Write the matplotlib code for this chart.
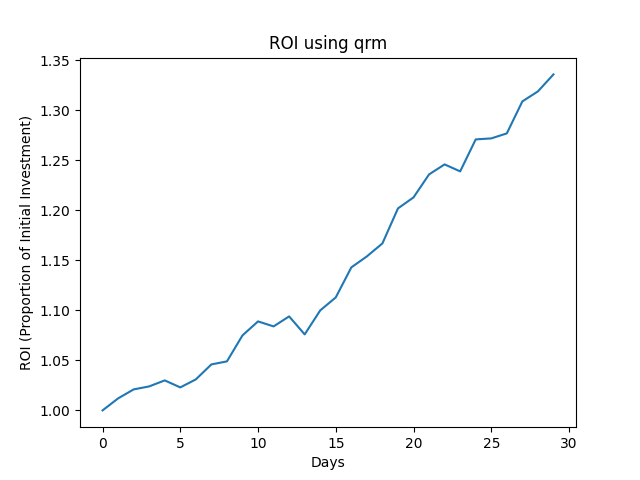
import matplotlib
matplotlib.use("Agg")
import matplotlib.pyplot as plt

days = list(range(30))
roi = [1.000, 1.012, 1.021, 1.024, 1.030, 1.023, 1.031, 1.046, 1.049, 1.075,
       1.089, 1.084, 1.094, 1.076, 1.100, 1.113, 1.143, 1.154, 1.167, 1.202,
       1.213, 1.236, 1.246, 1.239, 1.271, 1.272, 1.277, 1.309, 1.319, 1.336]

fig, ax = plt.subplots(figsize=(6.4, 4.8), dpi=100)
ax.plot(days, roi)
ax.set_title("ROI using qrm")
ax.set_xlabel("Days")
ax.set_ylabel("ROI (Proportion of Initial Investment)")
fig.savefig("out.png")
